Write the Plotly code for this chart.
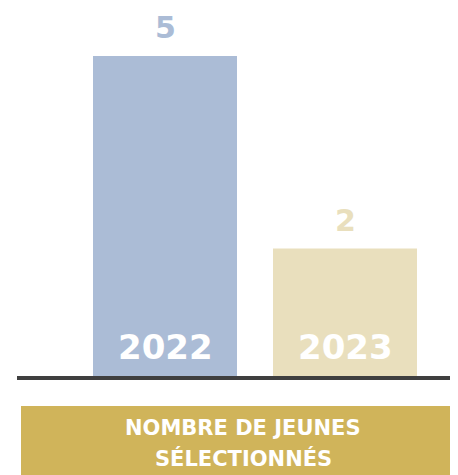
import plotly.graph_objects as go

years = ["2022", "2023"]
values = [5, 2]
bar_colors = ["#abbcd6", "#e9dfbd"]
title_lines = ["NOMBRE DE JEUNES", "SÉLECTIONNÉS"]

OFF = 8  # page body margin
W, H = 458 - OFF, 475 - OFF
# plot area in reference pixels: x 75..435, y 56..377
L = 75 - OFF
R = 458 - 435
T = 56 - OFF
B = 475 - 377
pw, ph = W - L - R, H - T - B

def px_x(p):
    return (p - OFF - L) / pw

def px_y(p):
    return (H - B - (p - OFF)) / ph

fig = go.Figure()
fig.add_trace(go.Bar(x=years, y=values, marker_color=bar_colors, marker_line_width=0,
                     hoverinfo="skip"))

font_fam = "DejaVu Sans, Arial Black, sans-serif"
ann = []
for i, (yr, v, c) in enumerate(zip(years, values, bar_colors)):
    ann.append(dict(x=i, y=v, xref="x", yref="y", text="<b>%s</b>" % v, showarrow=False,
                    yanchor="bottom", yshift=9,
                    font=dict(family=font_fam, size=30, color=c)))
    ann.append(dict(x=i, y=0, xref="x", yref="y", text="<b>%s</b>" % yr, showarrow=False,
                    yanchor="bottom", yshift=8,
                    font=dict(family=font_fam, size=34, color="white")))

for line, yc in zip(title_lines, [428, 458]):
    ann.append(dict(x=px_x(243), y=px_y(yc), xref="paper", yref="paper",
                    text="<b>%s</b>" % line, showarrow=False,
                    xanchor="center", yanchor="middle", align="center",
                    font=dict(family=font_fam, size=21, color="white")))

shapes = [
    dict(type="rect", xref="paper", yref="paper", x0=px_x(21), x1=px_x(470),
         y0=px_y(406), y1=px_y(480), fillcolor="#d0b45a", line=dict(width=0), layer="below"),
    dict(type="line", xref="paper", yref="paper", x0=px_x(17), x1=px_x(457),
         y0=px_y(378), y1=px_y(378), line=dict(color="#3f3f3f", width=4), layer="above"),
]

fig.update_layout(
    width=W, height=H,
    margin=dict(l=L, r=R, t=T, b=B, pad=0),
    paper_bgcolor="white", plot_bgcolor="white",
    bargap=0.2,
    showlegend=False,
    xaxis=dict(showticklabels=False, showgrid=False, zeroline=False, showline=False,
               ticks="", type="category", categoryorder="array", categoryarray=years,
               range=[-0.5, 1.5]),
    yaxis=dict(showticklabels=False, showgrid=False, zeroline=False, showline=False,
               ticks="", range=[0, 5]),
    annotations=ann,
    shapes=shapes,
)

fig.write_html("out.html")
